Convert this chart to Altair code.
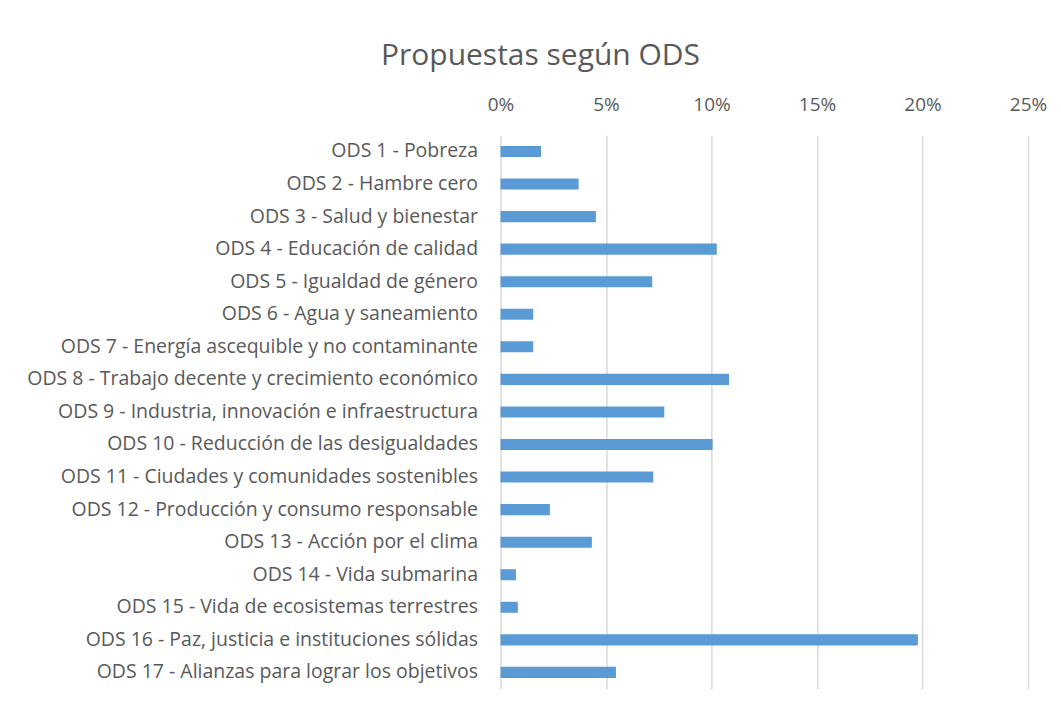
import altair as alt
import pandas as pd

categories = [
    "ODS 1 - Pobreza",
    "ODS 2 - Hambre cero",
    "ODS 3 - Salud y bienestar",
    "ODS 4 - Educación de calidad",
    "ODS 5 - Igualdad de género",
    "ODS 6 - Agua y saneamiento",
    "ODS 7 - Energía ascequible y no contaminante",
    "ODS 8 - Trabajo decente y crecimiento económico",
    "ODS 9 - Industria, innovación e infraestructura",
    "ODS 10 - Reducción de las desigualdades",
    "ODS 11 - Ciudades y comunidades sostenibles",
    "ODS 12 - Producción y consumo responsable",
    "ODS 13 - Acción por el clima",
    "ODS 14 - Vida submarina",
    "ODS 15 - Vida de ecosistemas terrestres",
    "ODS 16 - Paz, justicia e instituciones sólidas",
    "ODS 17 - Alianzas para lograr los objetivos",
]
values = [0.0192, 0.0370, 0.0452, 0.1025, 0.0719, 0.0155, 0.0155, 0.1083, 0.0776,
          0.1005, 0.0724, 0.0234, 0.0433, 0.0073, 0.0082, 0.1978, 0.0547]
x_ticks = [0, 0.05, 0.10, 0.15, 0.20, 0.25]

df = pd.DataFrame({"ods": categories, "value": values})

FONT = "Open Sans"
GRAY = "#595959"

chart = alt.Chart(df).mark_bar(color="#5B9BD5").encode(
    x=alt.X("value:Q",
            scale=alt.Scale(domain=[0, 0.25], nice=False),
            axis=alt.Axis(orient="top", format=".0%", values=x_ticks, title=None,
                          ticks=False, domain=False, grid=True, gridColor="#d9d9d9",
                          gridWidth=1.5, labelFont=FONT, labelFontSize=19,
                          labelColor=GRAY, labelPadding=21, labelFlush=False)),
    y=alt.Y("ods:N", sort=categories,
            scale=alt.Scale(paddingInner=0.66, paddingOuter=0.33),
            axis=alt.Axis(title=None, ticks=False, domain=False, labelFont=FONT,
                          labelFontSize=19.5, labelColor=GRAY, labelPadding=23,
                          labelLimit=600)),
).properties(
    width=528,
    height=554,
    title=alt.TitleParams("Propuestas según ODS", font=FONT, fontSize=30,
                          fontWeight="normal", color=GRAY, anchor="middle",
                          frame="group", dx=-224, offset=24),
    padding={"left": 493, "top": 127, "right": 25, "bottom": 10},
    autosize=alt.AutoSizeParams(type="none"),
    background="white",
).configure_view(stroke=None)

chart.save("out.html", embed_options={"renderer": "svg", "actions": False})
